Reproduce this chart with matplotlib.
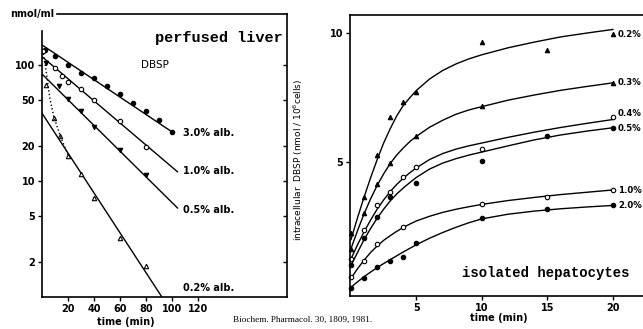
import numpy as np
import matplotlib
matplotlib.use("Agg")
import matplotlib.pyplot as plt

# ---- perfused liver (left panel), log scale ----
liver_labels = ["3.0% alb.", "1.0% alb.", "0.5% alb.", "0.2% alb."]
liver_t = [
    [2, 10, 20, 30, 40, 50, 60, 70, 80, 90, 100],
    [1, 10, 15, 20, 30, 40, 60, 80],
    [3, 13, 20, 30, 40, 60, 80],
    [3, 9, 14, 20, 30, 40, 60, 80],
]
liver_v = [
    [134, 120, 99, 86, 77, 66, 56, 47, 40, 33.6, 26.7],
    [132, 94, 81, 72, 62, 50, 33, 19.8],
    [103, 66, 51, 40, 29.4, 18.5, 11.2],
    [67, 35, 24.5, 16.4, 11.5, 7.2, 3.2, 1.84],
]
# straight fitted lines: start (t=0) and end point
fit_v0 = [149, 118, 83.6, 38.4]
fit_t1 = [100, 104, 104, 92]
fit_v1 = [26.4, 12.0, 5.85, 1.0]
label_v = [26, 12.2, 5.6, 1.2]
# dotted early phase of 0.2%
dot_t = [1, 3, 6, 9, 14, 20]
dot_v = [125, 92, 52, 36, 24.5, 16.8]

# ---- isolated hepatocytes (right panel) ----
hep_labels = ["0.2%", "0.3%", "0.4%", "0.5%", "1.0%", "2.0%"]
hep_markers = ["^", "^", "o", "o", "o", "o"]
hep_fill = [True, True, False, True, False, True]
hep_t = [
    [0, 1, 2, 3, 4, 5, 10, 15, 20],
    [0, 1, 2, 3, 5, 10, 20],
    [0, 1, 2, 3, 4, 5, 10, 20],
    [0, 1, 2, 3, 5, 10, 15, 20],
    [0, 1, 2, 4, 10, 15, 20],
    [0, 1, 2, 3, 4, 5, 10, 15, 20],
]
hep_v = [
    [2.24, 3.63, 5.27, 6.73, 7.31, 7.70, 9.66, 9.36, 9.95],
    [1.65, 3.03, 4.15, 4.97, 6.0, 7.17, 8.07],
    [1.23, 2.36, 3.33, 3.85, 4.43, 4.82, 5.50, 6.76],
    [1.02, 2.04, 2.86, 3.66, 4.17, 5.04, 6.0, 6.34],
    [0.53, 1.17, 1.82, 2.49, 3.36, 3.63, 3.91],
    [0.13, 0.52, 0.94, 1.17, 1.33, 1.85, 2.84, 3.2, 3.33],
]
# hand-drawn curves
curve_t = [0, 0.5, 1, 1.5, 2, 2.5, 3, 3.5, 4, 4.5, 5, 6, 7, 8, 9, 10,
           12, 14, 16, 18, 20]
curve_v = [
    [2.0, 2.85, 3.65, 4.4, 5.1, 5.75, 6.3, 6.8, 7.2, 7.5, 7.78, 8.22, 8.55,
     8.8, 9.0, 9.16, 9.43, 9.65, 9.85, 10.0, 10.14],
    [1.65, 2.35, 3.0, 3.58, 4.1, 4.55, 4.95, 5.28, 5.55, 5.8, 6.0, 6.35, 6.62,
     6.85, 7.02, 7.15, 7.4, 7.6, 7.78, 7.93, 8.07],
    [1.25, 1.8, 2.3, 2.76, 3.18, 3.54, 3.86, 4.14, 4.38, 4.59, 4.78, 5.1, 5.33,
     5.5, 5.63, 5.74, 5.96, 6.16, 6.34, 6.5, 6.65],
    [1.0, 1.5, 2.0, 2.43, 2.83, 3.18, 3.5, 3.77, 4.0, 4.21, 4.41, 4.73, 4.96,
     5.13, 5.27, 5.39, 5.63, 5.86, 6.05, 6.2, 6.33],
    [0.5, 0.87, 1.2, 1.5, 1.75, 1.97, 2.15, 2.32, 2.47, 2.6, 2.72, 2.9, 3.05,
     3.17, 3.27, 3.36, 3.51, 3.63, 3.74, 3.83, 3.92],
    [0.15, 0.36, 0.56, 0.74, 0.91, 1.07, 1.22, 1.37, 1.52, 1.66, 1.8, 2.05,
     2.27, 2.47, 2.65, 2.8, 2.98, 3.1, 3.19, 3.26, 3.32],
]

bold = dict(fontweight="bold", fontsize=7, family="DejaVu Sans")

fig = plt.figure(figsize=(6.43, 3.29), dpi=100)

######################## left panel ########################
ax1 = fig.add_axes([0.0653, 0.0973, 0.381, 0.8601])
ax1.set_yscale("log")
ax1.set_xlim(0, 188)
ax1.set_ylim(1.0, 275)
for i in range(4):
    ax1.plot([0, fit_t1[i]], [fit_v0[i], fit_v1[i]], color="black", lw=1.0)
    mfc = "black" if i in (0, 2) else "white"
    mk = "^" if i == 3 else ("v" if i == 2 else "o")
    ax1.plot(liver_t[i], liver_v[i], ls="none", marker=mk, ms=3.2,
             mfc=mfc, mec="black", mew=0.8)
    ax1.text(108, label_v[i], liver_labels[i], va="center", ha="left", **bold)
ax1.plot(dot_t, dot_v, color="black", ls=":", lw=1.0)

ax1.set_xticks([20, 40, 60, 80, 100, 120])
ax1.set_yticks([2, 5, 10, 20, 50, 100])
ax1.set_yticklabels(["2", "5", "10", "20", "50", "100"])
ax1.minorticks_off()
ax1.tick_params(axis="both", direction="out", length=3, width=1, pad=2)
for lab in ax1.get_xticklabels() + ax1.get_yticklabels():
    lab.set_fontweight("bold")
    lab.set_fontsize(7)
for s in ax1.spines.values():
    s.set_linewidth(1.2)
ax1.spines["left"].set_bounds(1.0, 196)
ax1.spines["top"].set_bounds(11.5, 188)

# inward ticks on right border
ax1r = ax1.twinx()
ax1r.set_yscale("log")
ax1r.set_ylim(ax1.get_ylim())
ax1r.set_yticks([2, 5, 10, 20, 50, 100])
ax1r.minorticks_off()
ax1r.set_yticklabels([])
ax1r.tick_params(axis="y", direction="in", length=3, width=1)
for s in ax1r.spines.values():
    s.set_visible(False)

ax1.text(136, 170, "perfused liver", fontsize=11, fontweight="bold",
         family="Liberation Mono", ha="center", va="center")
ax1.text(76, 100, "DBSP", fontsize=7.5, family="DejaVu Sans", ha="left", va="center")
fig.text(0.015, 0.957, "nmol/ml", va="center", ha="left", **bold)
fig.text(0.195, 0.022, "time (min)", ha="center", va="center", **bold)

######################## right panel ########################
ax2 = fig.add_axes([0.5443, 0.1003, 0.4557, 0.8541])
ax2.set_xlim(-0.08, 22.3)
ax2.set_ylim(-0.19, 10.7)
for i in range(6):
    ax2.plot(curve_t, curve_v[i], color="black", lw=1.0)
    mfc = "black" if hep_fill[i] else "white"
    ax2.plot(hep_t[i], hep_v[i], ls="none", marker=hep_markers[i], ms=3.2,
             mfc=mfc, mec="black", mew=0.8, clip_on=False)
    lv = hep_v[i][-1]
    if i == 2:
        lv += 0.12
    if i == 3:
        lv -= 0.05
    ax2.text(20.4, lv, hep_labels[i], va="center", ha="left", clip_on=False,
             fontweight="bold", fontsize=6.2, family="DejaVu Sans")

ax2.set_xticks([5, 10, 15, 20])
ax2.set_yticks([5, 10])
ax2.tick_params(axis="both", direction="out", length=3, width=1, pad=2)
for lab in ax2.get_xticklabels() + ax2.get_yticklabels():
    lab.set_fontweight("bold")
    lab.set_fontsize(7)
for s in ax2.spines.values():
    s.set_linewidth(1.2)
ax2.spines["right"].set_visible(False)

ax2.text(14.9, 0.7, "isolated hepatocytes", fontsize=10, fontweight="bold",
         family="Liberation Mono", ha="center", va="center")
fig.text(0.4635, 0.514, "intracellular  DBSP (nmol / 10$^6$cells)", rotation=90,
         ha="center", va="center", fontsize=6.5, family="DejaVu Sans")
fig.text(0.775, 0.033, "time (min)", ha="center", va="center", **bold)

# citation line
fig.text(0.363, 0.027, "Biochem. Pharmacol. 30, 1809, 1981.", fontsize=6.6,
         family="Liberation Serif", ha="left", va="center")

fig.savefig("out.png", dpi=100)
